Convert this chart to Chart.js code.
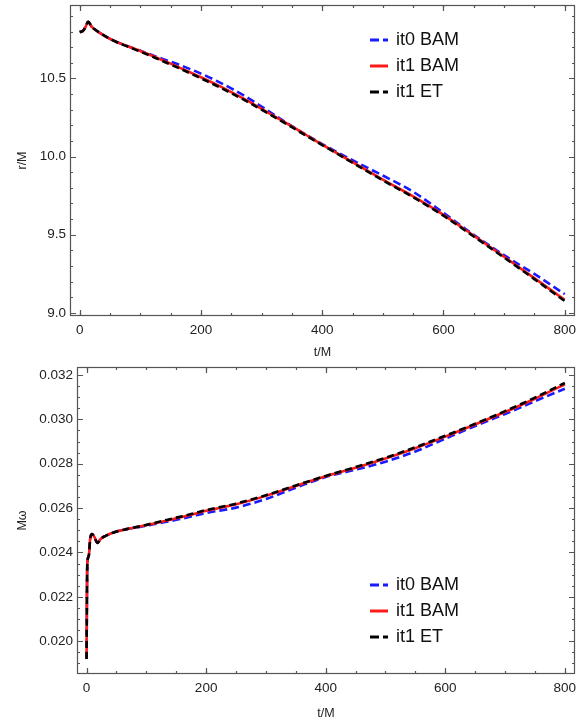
<!DOCTYPE html>
<html>
<head>
<meta charset="utf-8">
<script src="https://cdn.jsdelivr.net/npm/chart.js@4.4.1/dist/chart.umd.min.js"></script>
<style>
    body {
        margin: 0;
        background: #ffffff;
        width: 587px;
        height: 723px;
        position: relative;
        overflow: hidden;
    }

    canvas {
        position: absolute;
        left: 0;
    }

    #radiusChart {
        top: 0;
    }

    #freqChart {
        top: 362px;
    }
</style>
</head>
<body>
<canvas id="radiusChart" width="587" height="362"></canvas>
<canvas id="freqChart" width="587" height="361"></canvas>
<script>
// Separation r/M against time
const timeR = [0, 5, 9, 14, 20, 30, 50, 75, 100, 125, 150, 175, 200, 225, 250, 275, 300, 325, 350, 375, 400, 450, 500, 550, 600, 650, 700, 750, 800]
const rIt0Bam = [10.797, 10.803, 10.825, 10.862, 10.83, 10.80, 10.753, 10.712, 10.677, 10.641, 10.608, 10.571, 10.531, 10.486, 10.436, 10.381, 10.32, 10.257, 10.195, 10.136, 10.08, 9.977, 9.879, 9.775, 9.64, 9.499, 9.369, 9.249, 9.12]
const rIt1Bam = [10.797, 10.803, 10.825, 10.862, 10.83, 10.80, 10.753, 10.712, 10.676, 10.636, 10.595, 10.552, 10.508, 10.462, 10.413, 10.361, 10.306, 10.25, 10.193, 10.135, 10.077, 9.965, 9.853, 9.745, 9.627, 9.494, 9.359, 9.222, 9.083]
const rIt1Et = [10.797, 10.803, 10.825, 10.862, 10.83, 10.80, 10.753, 10.71, 10.672, 10.631, 10.589, 10.546, 10.501, 10.455, 10.406, 10.355, 10.3, 10.245, 10.188, 10.13, 10.074, 9.961, 9.848, 9.74, 9.622, 9.489, 9.354, 9.216, 9.076]

// Orbital frequency M*omega against time
const timeW = [0, 0.5, 1, 2, 4, 6, 9, 13, 18, 24, 32, 45, 65, 93, 120, 150, 175, 200, 250, 300, 350, 400, 450, 500, 550, 600, 650, 700, 750, 800]
const wIt0Bam = [0.0192, 0.0215, 0.0232, 0.0237, 0.0239, 0.0246, 0.02483, 0.0247, 0.02443, 0.02462, 0.02475, 0.0249, 0.02504, 0.02517, 0.02531, 0.02547, 0.02562, 0.02578, 0.02602, 0.02641, 0.02692, 0.0274, 0.02773, 0.02809, 0.02855, 0.02913, 0.0297, 0.03024, 0.03082, 0.03138]
const wIt1Bam = [0.0192, 0.0215, 0.0232, 0.0237, 0.0239, 0.0246, 0.02483, 0.0247, 0.02443, 0.02462, 0.02475, 0.0249, 0.02504, 0.02519, 0.02535, 0.02554, 0.0257, 0.02588, 0.02617, 0.02655, 0.027, 0.02743, 0.02782, 0.02824, 0.0287, 0.02922, 0.02977, 0.03033, 0.03093, 0.03158]
const wIt1Et = [0.0192, 0.0215, 0.0232, 0.0237, 0.0239, 0.0246, 0.02483, 0.0247, 0.02443, 0.02462, 0.02475, 0.0249, 0.02504, 0.0252, 0.02537, 0.02557, 0.02573, 0.02591, 0.0262, 0.02658, 0.02702, 0.02745, 0.02785, 0.02827, 0.02874, 0.02926, 0.0298, 0.03037, 0.03098, 0.03164]

const seriesLabels = ['it0 BAM', 'it1 BAM', 'it1 ET']

// Axis ticks
const timeTicks = [0, 200, 400, 600, 800]
const rTicks = [9.0, 9.5, 10.0, 10.5]
const wTicks = [0.020, 0.022, 0.024, 0.026, 0.028, 0.030, 0.032]

const FONT = "'Liberation Sans', Arial, sans-serif"
const FRAME_COLOR = '#555555'

function toPoints(xs, ys) {
    return xs.map((x, i) => ({ x: x, y: ys[i] }))
}

// lower order is painted last, so the ET curve sits on top
function makeDatasets(xs, blue, red, black) {
    return [
        { label: seriesLabels[0], data: toPoints(xs, blue), borderColor: '#1a1aff', borderWidth: 2.6, borderDash: [8, 4], order: 2 },
        { label: seriesLabels[1], data: toPoints(xs, red), borderColor: '#ff1a1a', borderWidth: 2.6, borderDash: [], order: 1 },
        { label: seriesLabels[2], data: toPoints(xs, black), borderColor: '#000000', borderWidth: 2.6, borderDash: [7, 4], order: 0 }
    ]
}

// Closed frame with inward ticks on all four sides
const framePlugin = {
    id: 'frame',
    afterDraw(chart, args, opts) {
        const { ctx, chartArea: a } = chart
        const xs = chart.scales.x
        const ys = chart.scales.y
        ctx.save()
        ctx.strokeStyle = FRAME_COLOR
        ctx.lineWidth = 1.2
        ctx.strokeRect(a.left + 0.5, a.top + 0.5, a.width - 1, a.height - 1)

        const drawX = (v, len) => {
            const px = Math.round(xs.getPixelForValue(v)) + 0.5
            ctx.beginPath()
            ctx.moveTo(px, a.bottom)
            ctx.lineTo(px, a.bottom - len)
            ctx.moveTo(px, a.top)
            ctx.lineTo(px, a.top + len)
            ctx.stroke()
        }
        const drawY = (v, len) => {
            const py = Math.round(ys.getPixelForValue(v)) + 0.5
            ctx.beginPath()
            ctx.moveTo(a.left, py)
            ctx.lineTo(a.left + len, py)
            ctx.moveTo(a.right, py)
            ctx.lineTo(a.right - len, py)
            ctx.stroke()
        }

        const start = Math.ceil(xs.min / opts.xMinor)
        for (let k = start; k * opts.xMinor <= xs.max; k++) {
            drawX(k * opts.xMinor, 3)
        }
        opts.xMajor.forEach((v) => drawX(v, 6))

        const yStart = Math.ceil(ys.min / opts.yMinor - 1e-6)
        for (let k = yStart; k * opts.yMinor <= ys.max + 1e-9; k++) {
            drawY(k * opts.yMinor, 3)
        }
        opts.yMajor.forEach((v) => drawY(v, 6))
        ctx.restore()
    }
}

// Legend placed inside the plot area
const insetLegend = {
    id: 'insetLegend',
    afterDraw(chart, args, opts) {
        const { ctx } = chart
        ctx.save()
        ctx.font = `${opts.fontSize}px ${FONT}`
        ctx.textBaseline = 'middle'
        ctx.fillStyle = '#111111'
        chart.data.datasets.forEach((ds, i) => {
            const y = opts.y + i * opts.gap
            ctx.strokeStyle = ds.borderColor
            ctx.lineWidth = 3
            ctx.setLineDash(ds.borderDash.length ? [9, 4] : [])
            ctx.beginPath()
            ctx.moveTo(opts.x, y)
            ctx.lineTo(opts.x + 18, y)
            ctx.stroke()
            ctx.setLineDash([])
            ctx.fillText(ds.label, opts.x + 26, y)
        })
        ctx.restore()
    }
}

function makeChart(canvasId, datasets, cfg) {
    return new Chart(document.getElementById(canvasId), {
        type: 'line',
        data: { datasets: datasets },
        plugins: [framePlugin, insetLegend],
        options: {
            responsive: false,
            animation: false,
            devicePixelRatio: 1,
            layout: { padding: { top: 5, right: 12, left: 0, bottom: 0 } },
            elements: {
                point: { radius: 0 },
                line: { cubicInterpolationMode: 'monotone', borderCapStyle: 'butt' }
            },
            plugins: {
                legend: { display: false },
                tooltip: { enabled: false },
                frame: { xMinor: 50, xMajor: timeTicks, yMinor: cfg.yMinor, yMajor: cfg.yTicks },
                insetLegend: { x: 370, y: cfg.legendY, gap: 26, fontSize: 18 }
            },
            scales: {
                x: {
                    type: 'linear',
                    min: -16,
                    max: 817,
                    grid: { display: false, drawTicks: false },
                    border: { display: false },
                    afterBuildTicks: (s) => { s.ticks = timeTicks.map((v) => ({ value: v })) },
                    afterFit: (s) => {
                        s.height = cfg.xHeight
                        s.paddingLeft = 0
                        s.paddingRight = 0
                    },
                    ticks: {
                        padding: 6,
                        maxRotation: 0,
                        color: '#222222',
                        font: { family: FONT, size: 13.5 },
                        callback: (v) => String(v)
                    },
                    title: {
                        display: true,
                        text: 't/M',
                        color: '#222222',
                        font: { family: FONT, size: 12.5 },
                        padding: { top: 0, bottom: 2 }
                    }
                },
                y: {
                    type: 'linear',
                    min: cfg.yMin,
                    max: cfg.yMax,
                    grid: { display: false, drawTicks: false },
                    border: { display: false },
                    afterBuildTicks: (s) => { s.ticks = cfg.yTicks.map((v) => ({ value: v })) },
                    afterFit: (s) => {
                        s.width = cfg.yWidth
                        s.paddingTop = 0
                        s.paddingBottom = 0
                    },
                    ticks: {
                        padding: 4,
                        color: '#222222',
                        font: { family: FONT, size: 13.5 },
                        callback: (v) => v.toFixed(cfg.digits)
                    },
                    title: {
                        display: true,
                        text: cfg.yTitle,
                        color: '#222222',
                        font: { family: FONT, size: 12.5 },
                        padding: { top: 15, bottom: 0 }
                    }
                }
            }
        }
    })
}

makeChart('radiusChart', makeDatasets(timeR, rIt0Bam, rIt1Bam, rIt1Et), {
    yMin: 8.98, yMax: 10.97, yTicks: rTicks, yMinor: 0.1, digits: 1,
    yTitle: 'r/M', yWidth: 70, xHeight: 46, legendY: 40
})

makeChart('freqChart', makeDatasets(timeW, wIt0Bam, wIt1Bam, wIt1Et), {
    yMin: 0.01852, yMax: 0.03236, yTicks: wTicks, yMinor: 0.0005, digits: 3,
    yTitle: 'Mω', yWidth: 77, xHeight: 49, legendY: 223
})
</script>
</body>
</html>
